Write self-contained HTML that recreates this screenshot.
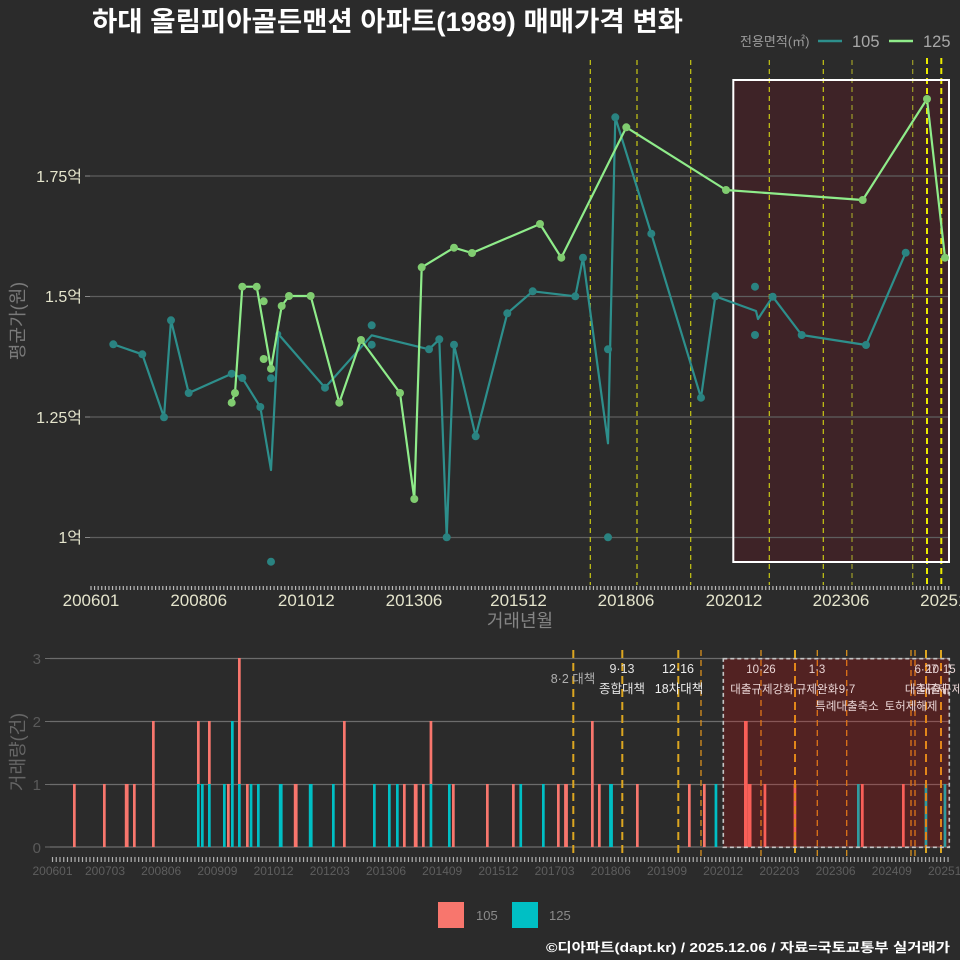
<!DOCTYPE html>
<html><head><meta charset="utf-8">
<style>
html,body{margin:0;padding:0;background:#2b2b2b;}
svg{display:block;font-family:"Liberation Sans","Noto Sans CJK KR",sans-serif;}
</style></head>
<body>
<svg width="960" height="960" viewBox="0 0 960 960" xmlns="http://www.w3.org/2000/svg">
<rect x="0" y="0" width="960" height="960" fill="#2b2b2b"/>

<!-- Title -->
<text x="92" y="31" font-size="27" font-weight="bold" fill="#ffffff" textLength="591" lengthAdjust="spacingAndGlyphs" font-family="'Liberation Sans','Noto Sans CJK KR',sans-serif">하대 올림피아골든맨션 아파트(1989) 매매가격 변화</text>

<!-- Top legend -->
<text x="740" y="46" font-size="13" fill="#9a9a9a">전용면적(㎡)</text>
<line x1="818" y1="41" x2="842" y2="41" stroke="#2d8f8c" stroke-width="2.5"/>
<text x="852" y="47" font-size="16.5" fill="#a8a8a8">105</text>
<line x1="889" y1="41" x2="913" y2="41" stroke="#8fec8a" stroke-width="2.5"/>
<text x="923" y="47" font-size="16.5" fill="#a8a8a8">125</text>

<!-- ============ UPPER PANEL ============ -->
<rect x="733.3" y="80" width="215.7" height="482" fill="#3e2327"/>
<g stroke="#5e5e5e" stroke-width="1.2">
<line x1="90" y1="176" x2="950" y2="176"/>
<line x1="90" y1="296.5" x2="950" y2="296.5"/>
<line x1="90" y1="417" x2="950" y2="417"/>
<line x1="90" y1="537.5" x2="950" y2="537.5"/>
</g>
<g stroke="#8a8a8a" stroke-width="1">
<line x1="85" y1="176" x2="90" y2="176"/>
<line x1="85" y1="296.5" x2="90" y2="296.5"/>
<line x1="85" y1="417" x2="90" y2="417"/>
<line x1="85" y1="537.5" x2="90" y2="537.5"/>
</g>
<g font-size="16" fill="#e4e4cc" text-anchor="end">
<text x="82" y="182">1.75억</text>
<text x="82" y="302">1.5억</text>
<text x="82" y="423">1.25억</text>
<text x="82" y="543">1억</text>
</g>
<text transform="translate(24,321) rotate(-90)" font-size="18" fill="#7a7a7a" text-anchor="middle">평균가(원)</text>

<g stroke="#c8c814" stroke-width="1.2" stroke-dasharray="5 4">
<line x1="590.3" y1="60" x2="590.3" y2="585"/>
<line x1="637" y1="60" x2="637" y2="585"/>
<line x1="690.7" y1="60" x2="690.7" y2="585"/>
<line x1="769.3" y1="60" x2="769.3" y2="585"/>
<line x1="823.3" y1="60" x2="823.3" y2="585"/>
</g>
<g stroke="#9e9e28" stroke-width="1.2" stroke-dasharray="5 4">
<line x1="852" y1="60" x2="852" y2="585"/>
<line x1="912.7" y1="60" x2="912.7" y2="585"/>
</g>
<g stroke="#eaea00" stroke-width="2" stroke-dasharray="6 4">
<line x1="927" y1="58" x2="927" y2="585"/>
<line x1="941.3" y1="58" x2="941.3" y2="585"/>
</g>
<rect x="733.3" y="80" width="215.7" height="482" fill="none" stroke="#ffffff" stroke-width="2"/>

<polyline fill="none" stroke="#2d8f8c" stroke-width="2.2" stroke-linejoin="round" points="113.3,344.3 142.3,354.3 164,417.3 171,320.3 188.7,393 231.7,373.7 242.3,378 260.3,407 271,470 278.3,334 325,387.7 371.7,335.3 429,349.3 439.3,339.3 446.7,537.3 454,344.7 475.7,436.3 507.3,313.3 532.7,291.3 575.3,296.3 583,257.7 608,443.3 615.3,117.3 651.3,233.7 701,397.7 715.3,296.3 756,311 758,319 772.7,296.7 801.7,335 866,345 905.7,252.7"/>
<g fill="#2a8381">
<circle cx="113.3" cy="344.3" r="4"/><circle cx="142.3" cy="354.3" r="4"/><circle cx="164" cy="417.3" r="4"/><circle cx="171" cy="320.3" r="4"/><circle cx="188.7" cy="393" r="4"/><circle cx="231.7" cy="373.7" r="4"/><circle cx="242.3" cy="378" r="4"/><circle cx="260.3" cy="407" r="4"/><circle cx="271" cy="378.3" r="4"/><circle cx="271" cy="561.7" r="4"/><circle cx="278.3" cy="334" r="3"/><circle cx="325" cy="387.7" r="4"/><circle cx="371.7" cy="325.3" r="4"/><circle cx="371.7" cy="344.7" r="4"/><circle cx="429" cy="349.3" r="4"/><circle cx="439.3" cy="339.3" r="4"/><circle cx="446.7" cy="537.3" r="4"/><circle cx="454" cy="344.7" r="4"/><circle cx="475.7" cy="436.3" r="4"/><circle cx="507.3" cy="313.3" r="4"/><circle cx="532.7" cy="291.3" r="4"/><circle cx="575.3" cy="296.3" r="4"/><circle cx="583" cy="257.7" r="4"/><circle cx="608" cy="349.3" r="4"/><circle cx="608" cy="537.3" r="4"/><circle cx="615.3" cy="117.3" r="4"/><circle cx="651.3" cy="233.7" r="4"/><circle cx="701" cy="397.7" r="4"/><circle cx="715.3" cy="296.3" r="4"/><circle cx="755" cy="286.7" r="4"/><circle cx="755" cy="335" r="4"/><circle cx="772.7" cy="296.7" r="4"/><circle cx="801.7" cy="335" r="4"/><circle cx="866" cy="345" r="4"/><circle cx="905.7" cy="252.7" r="4"/>
</g>

<polyline fill="none" stroke="#8fec8a" stroke-width="2.2" stroke-linejoin="round" points="231.7,402.7 235,393 242.3,286.7 256.7,286.7 271,368.7 281.7,306 289,296 310.7,296 339.3,402.7 361,340 400,393 414.3,499 421.7,267.3 454,247.7 472,253 540,224 561.3,257.7 626.3,127.3 726,190 862.7,200 927,99 945,257.7"/>
<g fill="#80cc70">
<circle cx="231.7" cy="402.7" r="4"/><circle cx="235" cy="393" r="4"/><circle cx="242.3" cy="286.7" r="4"/><circle cx="256.7" cy="286.7" r="4"/><circle cx="263.7" cy="301.3" r="4"/><circle cx="263.7" cy="359" r="4"/><circle cx="271" cy="368.7" r="4"/><circle cx="281.7" cy="306" r="4"/><circle cx="289" cy="296" r="4"/><circle cx="310.7" cy="296" r="4"/><circle cx="339.3" cy="402.7" r="4"/><circle cx="361" cy="340" r="4"/><circle cx="400" cy="393" r="4"/><circle cx="414.3" cy="499" r="4"/><circle cx="421.7" cy="267.3" r="4"/><circle cx="454" cy="247.7" r="4"/><circle cx="472" cy="253" r="4"/><circle cx="540" cy="224" r="4"/><circle cx="561.3" cy="257.7" r="4"/><circle cx="626.3" cy="127.3" r="4"/><circle cx="726" cy="190" r="4"/><circle cx="862.7" cy="200" r="4"/><circle cx="927" cy="99" r="4"/><circle cx="945" cy="257.7" r="4"/>
</g>

<line x1="90.4" y1="588" x2="950" y2="588" stroke="#b8b8b8" stroke-width="4" stroke-dasharray="1.2 2.389"/>
<g font-size="17" fill="#e4e4cc" text-anchor="middle">
<text x="91" y="606">200601</text>
<text x="198.7" y="606">200806</text>
<text x="306.3" y="606">201012</text>
<text x="414" y="606">201306</text>
<text x="518.5" y="606">201512</text>
<text x="626" y="606">201806</text>
<text x="734" y="606">202012</text>
<text x="841" y="606">202306</text>
<text x="948.5" y="606">202512</text>
</g>
<text x="520" y="627" font-size="18" fill="#858585" text-anchor="middle">거래년월</text>

<!-- ============ LOWER PANEL ============ -->
<g stroke="#6c6c6c" stroke-width="1.2">
<line x1="50" y1="658.5" x2="950" y2="658.5"/>
<line x1="50" y1="721.5" x2="950" y2="721.5"/>
<line x1="50" y1="784.5" x2="950" y2="784.5"/>
<line x1="50" y1="847" x2="950" y2="847"/>
</g>
<g stroke="#6c6c6c" stroke-width="1">
<line x1="45" y1="658.5" x2="50" y2="658.5"/>
<line x1="45" y1="721.5" x2="50" y2="721.5"/>
<line x1="45" y1="784.5" x2="50" y2="784.5"/>
<line x1="45" y1="847" x2="50" y2="847"/>
</g>
<g font-size="15" fill="#5a5a5a" text-anchor="end">
<text x="41" y="664">3</text>
<text x="41" y="727">2</text>
<text x="41" y="790">1</text>
<text x="41" y="853">0</text>
</g>
<text transform="translate(24,752) rotate(-90)" font-size="18" fill="#666666" text-anchor="middle">거래량(건)</text>

<g fill="#F8766D">
<rect x="73" y="784" width="2.7" height="63"/>
<rect x="103" y="784" width="2.7" height="63"/>
<rect x="124.8" y="784" width="3.8" height="63"/>
<rect x="133" y="784" width="2.7" height="63"/>
<rect x="152" y="721" width="2.7" height="126"/>
<rect x="197" y="721" width="2.7" height="63"/>
<rect x="208" y="721" width="2.7" height="63"/>
<rect x="227" y="784" width="2.7" height="63"/>
<rect x="238" y="658" width="2.7" height="126"/>
<rect x="246" y="784" width="2.7" height="63"/>
<rect x="293.8" y="784" width="3.8" height="63"/>
<rect x="343" y="721" width="2.7" height="126"/>
<rect x="403" y="784" width="2.7" height="63"/>
<rect x="413.8" y="784" width="3.8" height="63"/>
<rect x="422" y="784" width="2.7" height="63"/>
<rect x="429.6" y="721" width="2.7" height="63"/>
<rect x="452" y="784" width="2.7" height="63"/>
<rect x="486" y="784" width="2.7" height="63"/>
<rect x="512" y="784" width="2.7" height="63"/>
<rect x="557" y="784" width="2.7" height="63"/>
<rect x="564.1" y="784" width="3.8" height="63"/>
<rect x="591" y="721" width="2.7" height="126"/>
<rect x="598" y="784" width="2.7" height="63"/>
<rect x="636" y="784" width="2.7" height="63"/>
<rect x="688" y="784" width="2.7" height="63"/>
<rect x="703" y="784" width="2.7" height="63"/>
<rect x="744" y="721" width="3.7" height="126"/>
<rect x="747.7" y="784" width="3.8" height="63"/>
<rect x="763.6" y="784" width="2.7" height="63"/>
<rect x="793.6" y="784" width="2.7" height="63"/>
<rect x="861" y="784" width="2.7" height="63"/>
<rect x="902" y="784" width="2.7" height="63"/>
</g>
<g fill="#00BFC4">
<rect x="197" y="784" width="2.7" height="63"/>
<rect x="201" y="784" width="2.7" height="63"/>
<rect x="208" y="784" width="2.7" height="63"/>
<rect x="223" y="784" width="2.7" height="63"/>
<rect x="231" y="721" width="2.7" height="126"/>
<rect x="238" y="784" width="2.7" height="63"/>
<rect x="249.7" y="784" width="2.7" height="63"/>
<rect x="257" y="784" width="2.7" height="63"/>
<rect x="278.8" y="784" width="3.8" height="63"/>
<rect x="308.8" y="784" width="3.8" height="63"/>
<rect x="332" y="784" width="2.7" height="63"/>
<rect x="373" y="784" width="2.7" height="63"/>
<rect x="388" y="784" width="2.7" height="63"/>
<rect x="396" y="784" width="2.7" height="63"/>
<rect x="429.6" y="784" width="2.7" height="63"/>
<rect x="448" y="784" width="2.7" height="63"/>
<rect x="519.4" y="784" width="2.7" height="63"/>
<rect x="542" y="784" width="2.7" height="63"/>
<rect x="609.1" y="784" width="3.8" height="63"/>
<rect x="714.6" y="784" width="2.7" height="63"/>
<rect x="857" y="784" width="2.7" height="63"/>
<rect x="924.6" y="784" width="2.7" height="63"/>
<rect x="943.6" y="784" width="2.7" height="63"/>
</g>

<g stroke="#dca620" stroke-width="2" stroke-dasharray="8 5">
<line x1="573.3" y1="650" x2="573.3" y2="858"/>
<line x1="622.3" y1="650" x2="622.3" y2="858"/>
<line x1="678.3" y1="650" x2="678.3" y2="858"/>
<line x1="795" y1="650" x2="795" y2="858"/>
<line x1="926" y1="650" x2="926" y2="858"/>
<line x1="941" y1="650" x2="941" y2="858"/>
</g>
<g stroke="#d8901e" stroke-width="1.3" stroke-dasharray="6 4">
<line x1="701" y1="650" x2="701" y2="858"/>
<line x1="761" y1="650" x2="761" y2="858"/>
<line x1="817.3" y1="650" x2="817.3" y2="858"/>
<line x1="846.7" y1="650" x2="846.7" y2="858"/>
<line x1="911" y1="650" x2="911" y2="858"/>
<line x1="915" y1="650" x2="915" y2="858"/>
</g>

<rect x="723.3" y="658.7" width="226" height="188.6" fill="rgba(255,0,0,0.19)" stroke="#c4c4c4" stroke-width="1.6" stroke-dasharray="4 3"/>

<g font-size="12.5" text-anchor="middle">
<text x="573" y="683" fill="#b0b0b0">8·2 대책</text>
<text x="622" y="673" fill="#e0e0e0">9·13</text>
<text x="622" y="693" fill="#e0e0e0">종합대책</text>
<text x="678" y="673" fill="#eeeeee">12·16</text>
<text x="679" y="693" fill="#eeeeee">18차대책</text>
</g>
<g font-size="11.5" text-anchor="middle" fill="#ead6d6">
<text x="761" y="673">10·26</text>
<text x="762" y="693">대출규제강화</text>
<text x="817" y="673">1·3</text>
<text x="817" y="693">규제완화</text>
<text x="847" y="693">9·7</text>
<text x="847" y="710">특례대출축소</text>
<text x="911" y="710">토허제해제</text>
<text x="926" y="673">6·27</text>
<text x="941" y="673">10·15</text>
<text x="926" y="693">대출규제</text>
<text x="941" y="693">대출규제</text>
</g>

<line x1="51.9" y1="859.5" x2="949" y2="859.5" stroke="#b0b0b0" stroke-width="5" stroke-dasharray="1.2 2.547"/>
<g font-size="12" fill="#5e5e5e" text-anchor="middle">
<text x="52.5" y="875">200601</text>
<text x="105" y="875">200703</text>
<text x="161.2" y="875">200806</text>
<text x="217.4" y="875">200909</text>
<text x="273.6" y="875">201012</text>
<text x="329.8" y="875">201203</text>
<text x="386" y="875">201306</text>
<text x="442.2" y="875">201409</text>
<text x="498.4" y="875">201512</text>
<text x="554.6" y="875">201703</text>
<text x="610.8" y="875">201806</text>
<text x="667" y="875">201909</text>
<text x="723.2" y="875">202012</text>
<text x="779.4" y="875">202203</text>
<text x="835.6" y="875">202306</text>
<text x="891.8" y="875">202409</text>
<text x="948" y="875">202512</text>
</g>

<rect x="438" y="902" width="26" height="26" fill="#F8766D"/>
<text x="476" y="920" font-size="13" fill="#8a8a8a">105</text>
<rect x="512" y="902" width="26" height="26" fill="#00BFC4"/>
<text x="549" y="920" font-size="13" fill="#8a8a8a">125</text>

<text x="950" y="952" font-size="13" font-weight="bold" fill="#ffffff" text-anchor="end" textLength="404" lengthAdjust="spacingAndGlyphs">©디아파트(dapt.kr) / 2025.12.06 / 자료=국토교통부 실거래가</text>
</svg>
</body></html>
